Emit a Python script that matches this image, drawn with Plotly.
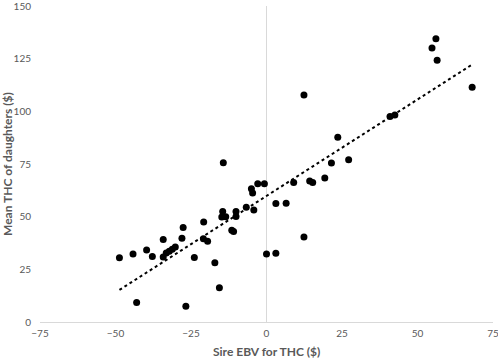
import numpy as np
import plotly.graph_objects as go

sire_ebv = [-48.7, -44.2, -43.0, -39.7, -37.8, -34.2, -34.2, -33.2, -32.2, -31.2,
            -30.2, -28.0, -27.6, -26.7, -23.9, -20.8, -20.9, -19.5, -17.1, -15.6,
            -14.5, -14.8, -13.5, -14.3, -11.5, -10.9, -10.1, -10.1, -6.7, -5.0,
            -4.6, -4.2, -2.9, -0.7, 0.0, 3.1, 3.1, 6.5, 9.0, 12.4,
            12.4, 14.3, 15.3, 19.3, 21.5, 23.6, 27.2, 40.9, 42.5, 54.8,
            56.1, 56.5, 68.1]
mean_thc = [30.5, 32.3, 9.2, 34.2, 31.1, 39.2, 30.8, 32.8, 33.6, 34.5,
            35.6, 39.8, 44.8, 7.5, 30.6, 47.5, 39.5, 38.3, 28.1, 16.2,
            52.5, 49.8, 50.0, 75.6, 43.6, 42.9, 52.4, 50.1, 54.5, 63.2,
            61.2, 53.2, 65.6, 65.6, 32.3, 32.6, 56.3, 56.4, 66.2, 40.3,
            107.8, 66.9, 66.2, 68.3, 75.5, 87.7, 77.0, 97.5, 98.3, 130.1,
            134.5, 124.2, 111.4]

x_ticks = [-75, -50, -25, 0, 25, 50, 75]
y_ticks = [0, 25, 50, 75, 100, 125, 150]

slope, intercept = np.polyfit(sire_ebv, mean_thc, 1)
tx = [min(sire_ebv), max(sire_ebv)]
ty = [slope * v + intercept for v in tx]

fig = go.Figure()
fig.add_trace(go.Scatter(x=tx, y=ty, mode="lines",
                         line=dict(color="black", width=2, dash="dot"),
                         hoverinfo="skip", showlegend=False))
fig.add_trace(go.Scatter(x=sire_ebv, y=mean_thc, mode="markers",
                         marker=dict(color="black", size=7),
                         showlegend=False))

tickfont = dict(family="Lato, sans-serif", size=10, color="#595959")
titlefont = dict(family="Lato, sans-serif", size=12, color="#595959", weight="bold")

fig.update_layout(
    width=498, height=358,
    margin=dict(l=40, r=5, t=6, b=36),
    plot_bgcolor="white", paper_bgcolor="white",
    xaxis=dict(range=[-75, 75], tickvals=x_ticks, showgrid=False, automargin=False,
               zeroline=True, zerolinecolor="#d9d9d9", zerolinewidth=1,
               showline=True, linecolor="#d9d9d9", linewidth=1,
               ticks="", tickfont=tickfont, ticklabelstandoff=2,
               ticklabeloverflow="allow"),
    yaxis=dict(range=[0, 150], tickvals=y_ticks, showgrid=False, automargin=False,
               zeroline=False, showline=False, ticks="", tickfont=tickfont,
               ticklabelstandoff=8, ticklabeloverflow="allow"),
    annotations=[
        dict(text="Sire EBV for THC ($)", font=titlefont, showarrow=False,
             xref="paper", yref="paper", x=0.5, y=0, yshift=-20, yanchor="top"),
        dict(text="Mean THC of daughters ($)", font=titlefont, showarrow=False,
             xref="paper", yref="paper", x=0, y=0.5, xshift=-33, xanchor="center",
             textangle=-90),
    ],
)

fig.write_html("out.html", config={"displayModeBar": False},
               post_script="document.body.style.margin='0';document.body.style.overflow='hidden';")
